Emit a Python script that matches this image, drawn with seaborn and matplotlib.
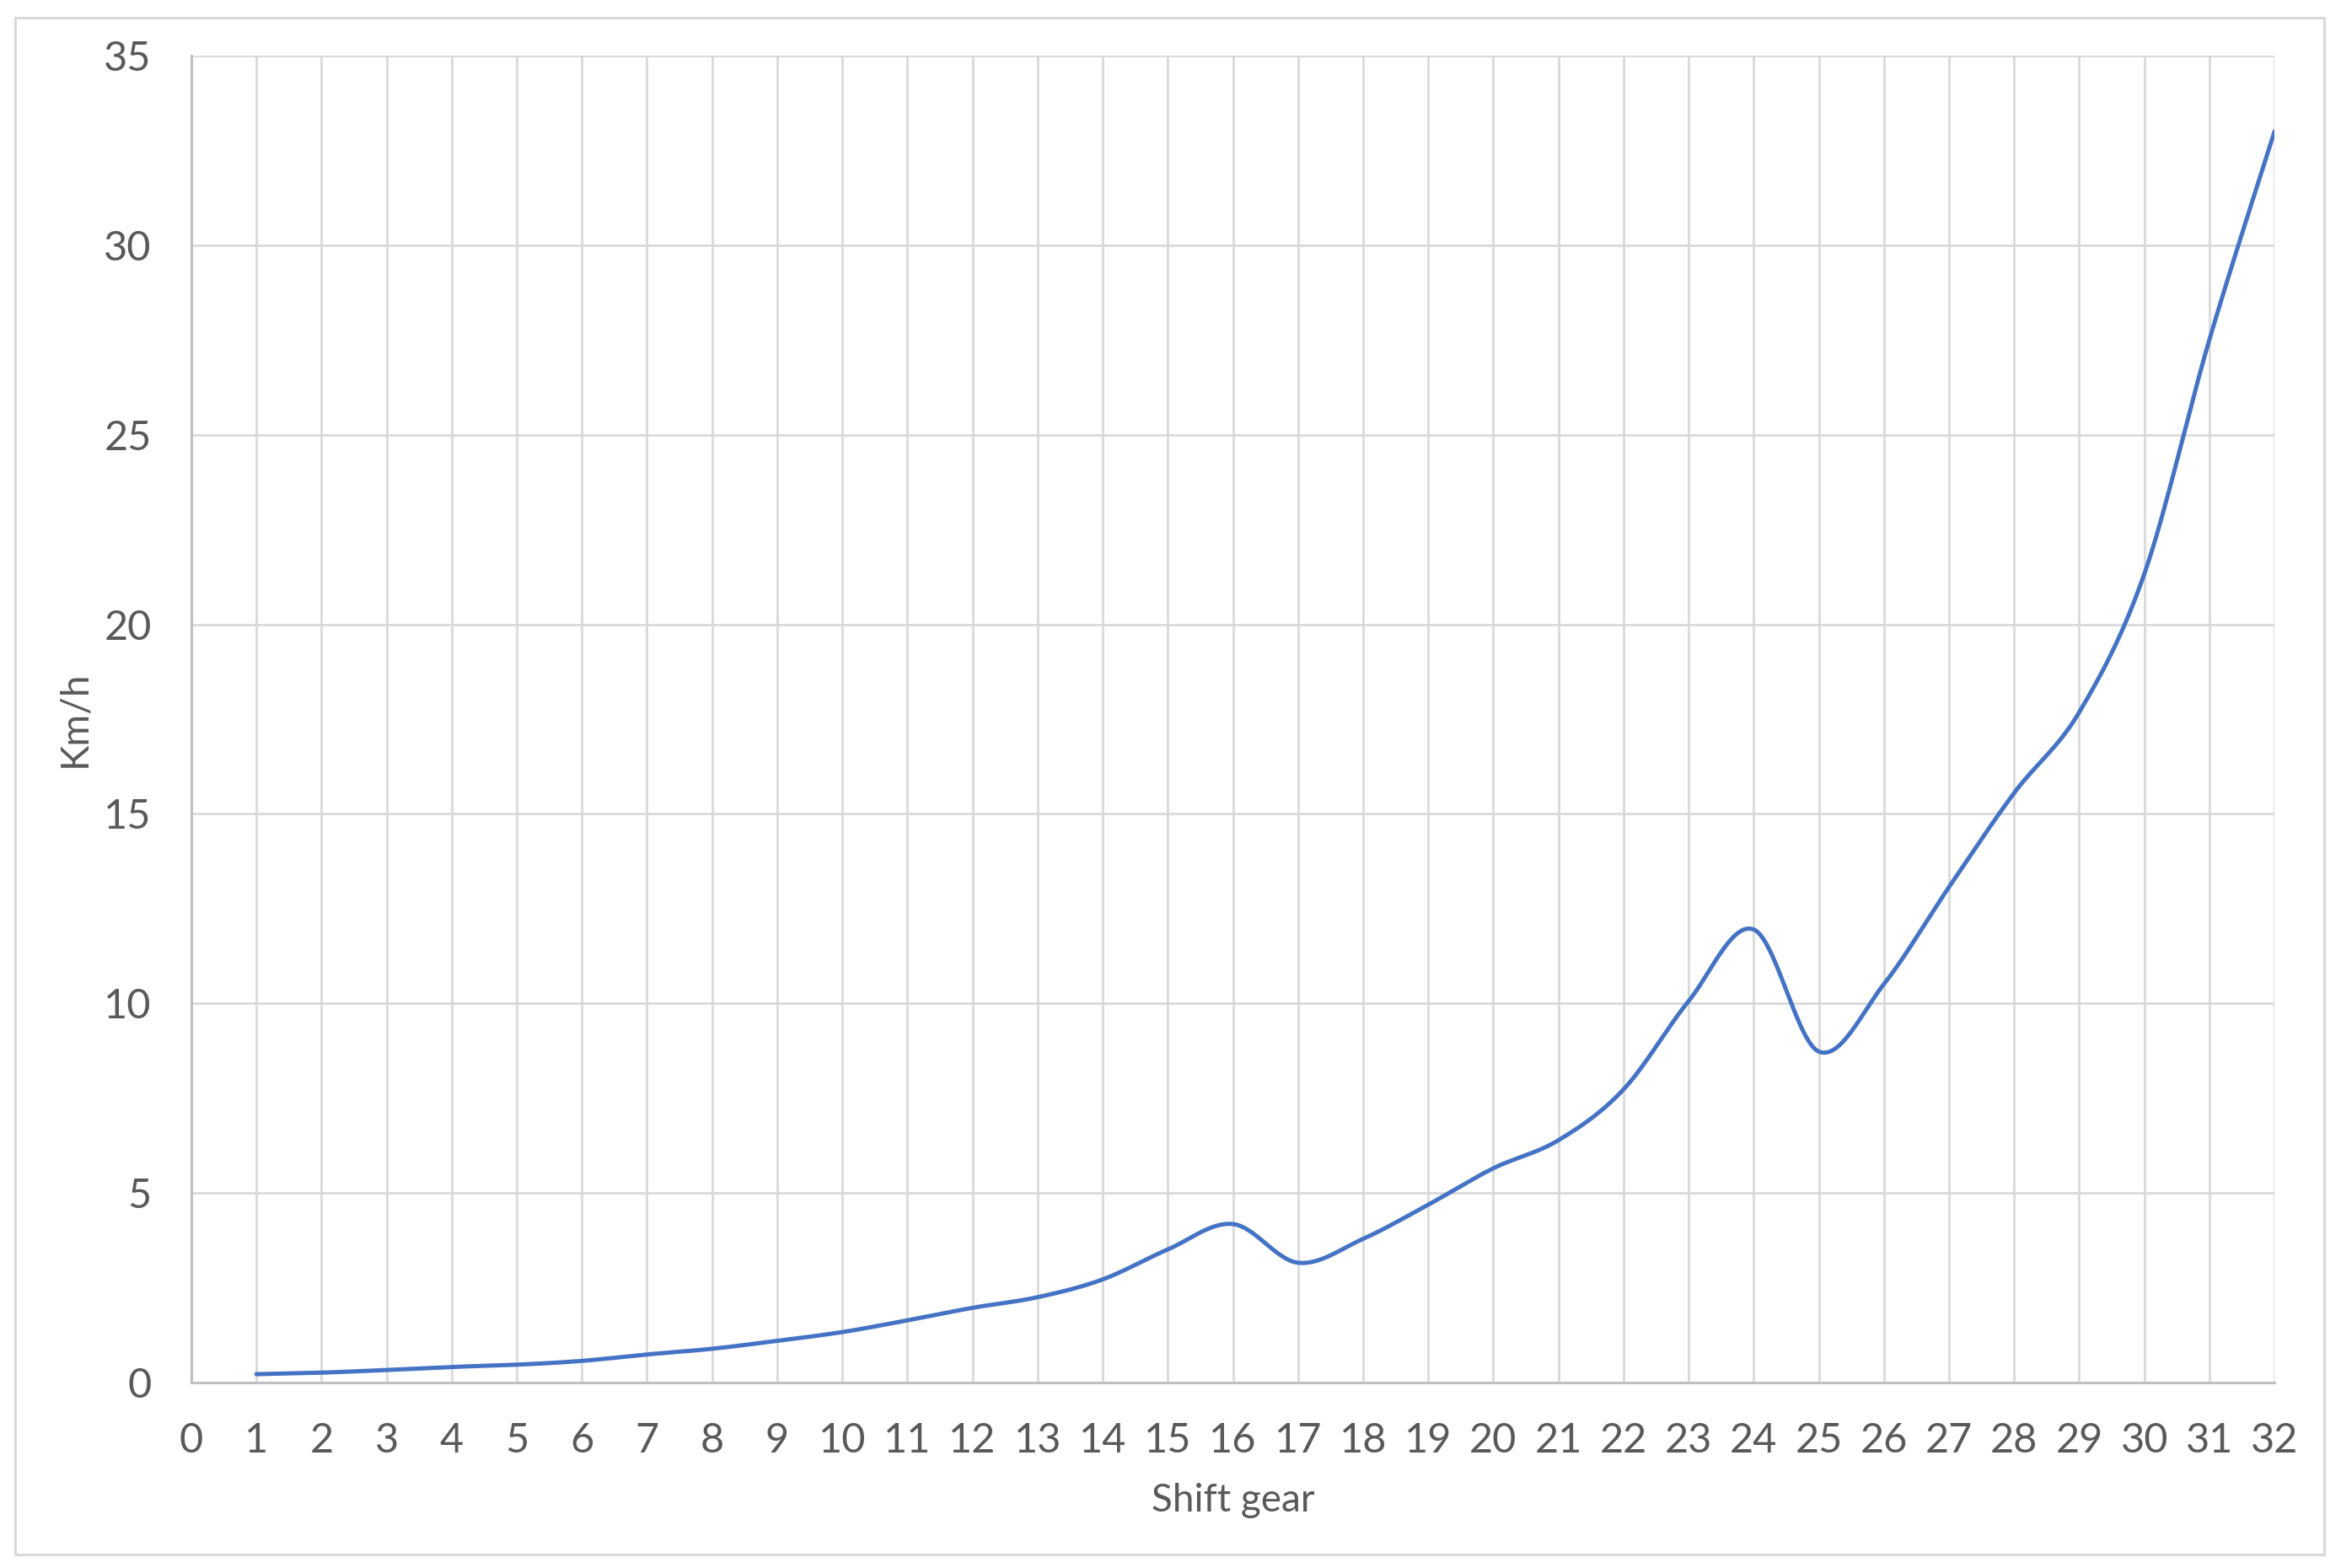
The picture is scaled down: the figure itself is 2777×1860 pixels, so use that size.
import numpy as np
import pandas as pd
import matplotlib.pyplot as plt
import seaborn as sns
from matplotlib.patches import Rectangle

# data
gears = list(range(1, 33))
speed_kmh = [0.22, 0.26, 0.33, 0.41, 0.47, 0.57, 0.74, 0.89, 1.10, 1.33,
             1.64, 1.97, 2.25, 2.72, 3.51, 4.18, 3.16, 3.79, 4.69, 5.65,
             6.39, 7.73, 10.06, 11.95, 8.73, 10.51, 13.07, 15.55, 17.68, 21.33,
             27.51, 33.0]
x_ticks = list(range(0, 33))
y_ticks = [0, 5, 10, 15, 20, 25, 30, 35]


def smooth_line(x, y, steps=30):
    # Excel style smoothed line (Catmull-Rom bezier segments)
    x = np.asarray(x, float)
    y = np.asarray(y, float)
    px = np.concatenate([[x[0]], x, [x[-1]]])
    py = np.concatenate([[y[0]], y, [y[-1]]])
    xs, ys = [], []
    t = np.linspace(0, 1, steps, endpoint=False)
    for i in range(1, len(px) - 2):
        p0 = np.array([px[i], py[i]])
        p3 = np.array([px[i + 1], py[i + 1]])
        c1 = p0 + (p3 - np.array([px[i - 1], py[i - 1]])) / 6
        c2 = p3 - (np.array([px[i + 2], py[i + 2]]) - p0) / 6
        pts = ((1 - t) ** 3)[:, None] * p0 + (3 * (1 - t) ** 2 * t)[:, None] * c1 \
            + (3 * (1 - t) * t ** 2)[:, None] * c2 + (t ** 3)[:, None] * p3
        xs.extend(pts[:, 0])
        ys.extend(pts[:, 1])
    xs.append(x[-1])
    ys.append(y[-1])
    return np.array(xs), np.array(ys)


sx, sy = smooth_line(gears, speed_kmh)
curve = pd.DataFrame({"gear": sx, "kmh": sy})

sns.set_theme(style="white")
plt.rcParams["font.family"] = ["Lato", "DejaVu Sans"]

fig = plt.figure(figsize=(13.885, 9.3), dpi=200)
ax = fig.add_axes([0.0817, 0.1183, 0.8899, 0.8462])

sns.lineplot(data=curve, x="gear", y="kmh", ax=ax, color="#4472C4",
             linewidth=1.8, sort=False, estimator=None)

ax.set_xlim(0, 32)
ax.set_ylim(0, 35)
ax.set_xticks(x_ticks)
ax.set_yticks(y_ticks)
ax.grid(True, color="#d9d9d9", linewidth=1.0)
ax.set_axisbelow(True)

for side in ["top", "right"]:
    ax.spines[side].set_visible(False)
for side in ["left", "bottom"]:
    ax.spines[side].set_color("#bfbfbf")
    ax.spines[side].set_linewidth(1.1)

ax.tick_params(axis="both", length=0, labelsize=17.5, colors="#595959")
ax.tick_params(axis="x", pad=17)
ax.tick_params(axis="y", pad=17)

ax.set_xlabel("Shift gear", fontsize=16.5, color="#595959", labelpad=10)
ax.set_ylabel("Km/h", fontsize=16.5, color="#595959", labelpad=5)

# outer chart frame
fig.patches.append(Rectangle((18 / 2777, 1 - 1844 / 1860), (2757 - 18) / 2777,
                             (1844 - 21) / 1860, transform=fig.transFigure,
                             fill=False, edgecolor="#d9d9d9", linewidth=1.1))

fig.savefig("out.png", dpi=200, facecolor="white")
plt.close(fig)
